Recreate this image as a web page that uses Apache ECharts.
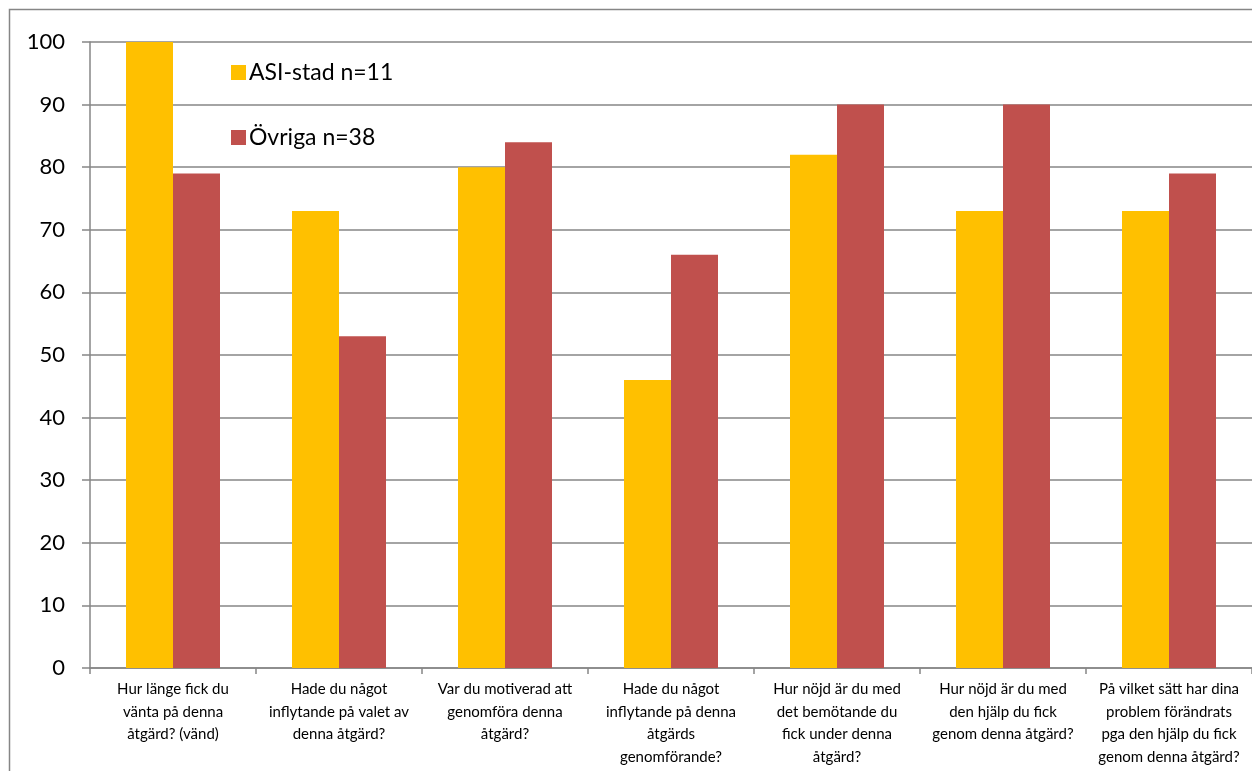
<!DOCTYPE html>
<html><head><meta charset="utf-8">
<script src="https://cdn.jsdelivr.net/npm/echarts@6/dist/echarts.min.js"></script>
<style>html,body{margin:0;padding:0;background:#fff;overflow:hidden}#c{width:1252px;height:771px}</style>
</head><body><div id="c"></div>
<script>
const categories = [
  "Hur länge fick du\nvänta på denna\nåtgärd? (vänd)",
  "Hade du något\ninflytande på valet av\ndenna åtgärd?",
  "Var du motiverad att\ngenomföra denna\nåtgärd?",
  "Hade du något\ninflytande på denna\nåtgärds\ngenomförande?",
  "Hur nöjd är du med\ndet bemötande du\nfick under denna\nåtgärd?",
  "Hur nöjd är du med\nden hjälp du fick\ngenom denna åtgärd?",
  "På vilket sätt har dina\nproblem förändrats\npga den hjälp du fick\ngenom denna åtgärd?"
];
const asiValues = [100, 73, 80, 46, 82, 73, 73];
const ovrigaValues = [79, 53, 84, 66, 90, 90, 79];
const seriesNames = ["ASI-stad n=11", "Övriga n=38"];

const chart = echarts.init(document.getElementById('c'));
const font = "Lato, 'Open Sans', sans-serif";
chart.setOption({
  animation: false,
  textStyle: { fontFamily: font },
  graphic: [{
    type: 'rect', shape: { x: 9.5, y: 9.5, width: 1300, height: 800 },
    style: { fill: 'none', stroke: '#868686', lineWidth: 1.5 }, z: -1
  }],
  legend: {
    orient: 'vertical', left: 226, top: 56, itemWidth: 15, itemHeight: 15,
    itemGap: 42, icon: 'rect',
    textStyle: { fontSize: 23, color: '#000', fontFamily: font, padding: [0,0,0,-2] },
    data: seriesNames
  },
  grid: { left: 90, right: -2, top: 42, bottom: 103, containLabel: false },
  xAxis: {
    type: 'category', data: categories,
    axisLine: { lineStyle: { color: '#868686', width: 1.5 } },
    axisTick: { show: true, length: 6, lineStyle: { color: '#868686', width: 1.5 } },
    axisLabel: { interval: 0, fontSize: 15, color: '#000', lineHeight: 22.5, margin: 10, fontFamily: font }
  },
  yAxis: {
    type: 'value', min: 0, max: 100, interval: 10,
    axisLine: { show: true, lineStyle: { color: '#868686', width: 1.5 } },
    axisTick: { show: true, length: 8, lineStyle: { color: '#868686', width: 1.5 } },
    splitLine: { lineStyle: { color: '#868686', width: 1.5 } },
    axisLabel: { fontSize: 22, color: '#000', margin: 25, fontFamily: font }
  },
  series: [
    { name: seriesNames[0], type: 'bar', data: asiValues, barWidth: 47, barGap: '0%', itemStyle: { color: '#FFC000' } },
    { name: seriesNames[1], type: 'bar', data: ovrigaValues, barWidth: 47, barGap: '0%', itemStyle: { color: '#C0504D' } }
  ]
});
</script></body></html>
